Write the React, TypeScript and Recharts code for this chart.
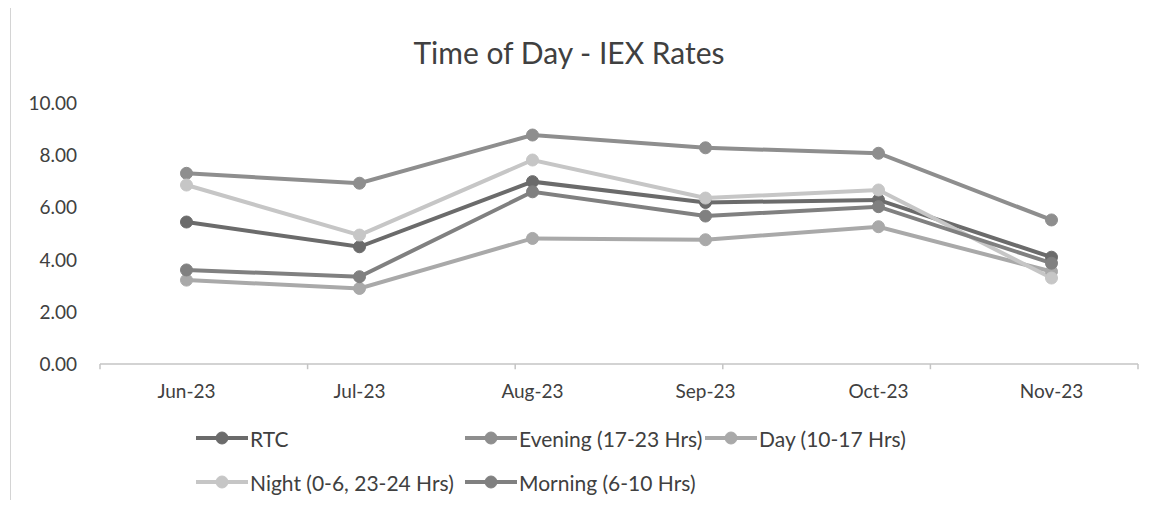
import React from 'react';
import { LineChart, Line, XAxis, YAxis, Legend, ReferenceLine } from 'recharts';

const categories = ['Jun-23', 'Jul-23', 'Aug-23', 'Sep-23', 'Oct-23', 'Nov-23'];
const rtc = [5.45, 4.5, 7.0, 6.2, 6.3, 4.1];
const evening = [7.32, 6.94, 8.79, 8.3, 8.09, 5.53];
const day = [3.22, 2.9, 4.82, 4.77, 5.27, 3.55];
const night = [6.87, 4.95, 7.83, 6.37, 6.68, 3.3];
const morning = [3.61, 3.35, 6.61, 5.68, 6.04, 3.87];
const yTicks = [0, 2, 4, 6, 8, 10];

const seriesNames = ['RTC', 'Evening (17-23 Hrs)', 'Day (10-17 Hrs)', 'Night (0-6, 23-24 Hrs)', 'Morning (6-10 Hrs)'];
const seriesKeys = ['rtc', 'evening', 'day', 'night', 'morning'];
const seriesValues = [rtc, evening, day, night, morning];
const seriesColors = ['#6b6b6b', '#8e8e8e', '#a9a9a9', '#c6c6c6', '#808080'];

const data = categories.map((c, i) => {
  const row: Record<string, string | number> = { month: c };
  seriesKeys.forEach((k, s) => {
    row[k] = seriesValues[s][i];
  });
  return row;
});

const boundaries = Array.from({ length: categories.length + 1 }, (_, i) => i);

const FONT = 'Lato, "Open Sans", sans-serif';

const CHART_W = 1140;
const CHART_H = 492;
const X_H = 30;
const MARGIN = { top: 95.5, right: 10, left: 32, bottom: 136 - X_H };
const Y_W = 60;
const PLOT_W = CHART_W - MARGIN.left - MARGIN.right - Y_W;
const HALF_BAND = PLOT_W / (2 * categories.length);

const legendCols = [188, 457, 697];
const legendRows = [18, 62];

const LegendContent = (props: any) => {
  const payload = [...(props.payload || [])].sort(
    (a: any, b: any) => seriesNames.indexOf(a.value) - seriesNames.indexOf(b.value)
  );
  return (
    <div style={{ position: 'relative', width: CHART_W, height: 80, fontFamily: FONT }}>
      {payload.map((p: any, i: number) => {
        const col = i % 3;
        const row = Math.floor(i / 3);
        return (
          <div
            key={p.value}
            style={{
              position: 'absolute',
              left: legendCols[col],
              top: legendRows[row] - 12,
              height: 24,
              display: 'flex',
              alignItems: 'center',
              whiteSpace: 'nowrap',
            }}
          >
            <svg width={52} height={24} style={{ display: 'block' }}>
              <line x1={0} y1={12} x2={52} y2={12} stroke={p.color} strokeWidth={4} />
              <circle cx={26} cy={12} r={6} fill={p.color} stroke={p.color} />
            </svg>
            <span style={{ fontSize: 21, color: '#404040', marginLeft: 2 }}>{p.value}</span>
          </div>
        );
      })}
    </div>
  );
};

export default function App() {
  return (
    <div style={{ position: 'relative', width: CHART_W, height: CHART_H }}>
      <div style={{ position: 'absolute', left: 2, top: -8, width: 1, height: 508, background: '#d4d4d4' }} />
      <LineChart width={CHART_W} height={CHART_H} data={data} margin={MARGIN}>
        <text x={561} y={56} textAnchor="middle" fontFamily={FONT} fontSize={30} fill="#404040">
          Time of Day - IEX Rates
        </text>
        <XAxis
          dataKey="month"
          height={X_H}
          padding={{ left: HALF_BAND, right: HALF_BAND }}
          axisLine={{ stroke: '#c4c4c4', strokeWidth: 1.5 }}
          tickLine={false}
          tickSize={0}
          tickMargin={21}
          interval={0}
          tick={{ fill: '#404040', fontSize: 19, fontFamily: FONT }}
        />
        <XAxis xAxisId="b" type="number" domain={[0, categories.length]} hide />
        <YAxis
          width={Y_W}
          domain={[0, 10]}
          ticks={yTicks}
          interval={0}
          axisLine={false}
          tickLine={false}
          tickSize={0}
          tickMargin={23}
          tickFormatter={(v: number) => v.toFixed(2)}
          tick={{ fill: '#404040', fontSize: 19, fontFamily: FONT }}
        />
        {boundaries.map((b) => (
          <ReferenceLine
            key={b}
            xAxisId="b"
            segment={[{ x: b, y: 0 }, { x: b, y: -0.2 }]}
            ifOverflow="visible"
            stroke="#c4c4c4"
            strokeWidth={1.5}
          />
        ))}
        {seriesKeys.map((k, s) => (
          <Line
            key={k}
            type="linear"
            dataKey={k}
            name={seriesNames[s]}
            stroke={seriesColors[s]}
            strokeWidth={4}
            dot={{ r: 6, fill: seriesColors[s], stroke: seriesColors[s], strokeWidth: 1 }}
            activeDot={false}
            isAnimationActive={false}
          />
        ))}
        <Legend
          layout="horizontal"
          verticalAlign="middle"
          align="center"
          wrapperStyle={{ top: 412, left: 0, width: CHART_W, height: 80 }}
          content={<LegendContent />}
        />
      </LineChart>
    </div>
  );
}
